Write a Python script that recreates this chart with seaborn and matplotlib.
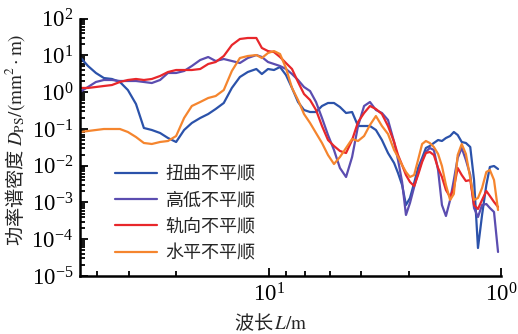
import numpy as np
import pandas as pd
import matplotlib
matplotlib.use("Agg")
import matplotlib.pyplot as plt
import seaborn as sns
from matplotlib.ticker import FixedLocator, LogLocator, LogFormatterMathtext, NullFormatter

# Wavelength grid (m) shared by all four irregularity spectra
wavelength = [64.8, 59.8, 55.3, 51.1, 47.2, 43.6, 40.3, 37.2, 34.4, 31.8, 29.3, 27.1,
              25.0, 23.1, 21.4, 19.7, 18.2, 16.9, 15.6, 14.4, 13.3, 12.3, 11.3,
              10.7, 10.07, 9.49, 8.94, 8.43, 7.94, 7.48, 7.05, 6.64, 6.26, 5.90, 5.56,
              5.24, 4.94, 4.65, 4.38, 4.13, 3.89, 3.67, 3.46, 3.26, 3.07, 2.89,
              2.78, 2.67, 2.57, 2.47, 2.37, 2.28, 2.19, 2.11, 2.03, 1.95, 1.87, 1.80,
              1.73, 1.66, 1.60, 1.54, 1.48, 1.42, 1.36, 1.31, 1.26, 1.21, 1.16, 1.12,
              1.075, 1.033]

# Power spectral density (mm^2·m)
psd_twist = [9.03, 5.14, 3.32, 2.42, 2.28, 1.89, 1.14, 0.476, 0.106, 0.0934, 0.0774, 0.0566,
             0.0441, 0.0934, 0.145, 0.198, 0.254, 0.348, 0.507, 1.30, 2.58, 3.53, 4.26,
             3.11, 4.26, 4.00, 4.83, 2.93, 1.30, 0.539, 0.327, 0.288, 0.288, 0.420, 0.507,
             0.507, 0.394, 0.271, 0.288, 0.120, 0.120, 0.120, 0.0934, 0.0499, 0.0221, 0.0118,
             0.00632, 0.00298, 0.000852, 0.00132, 0.00338, 0.00865, 0.0162, 0.0303, 0.0343,
             0.0414, 0.0499, 0.0469, 0.0566, 0.0641, 0.0824, 0.0683, 0.0441, 0.0414, 0.0322,
             0.00408, 5.77e-5, 0.000456, 0.00298, 0.00921, 0.00980, 0.00812]

psd_vertical = [1.01, 1.38, 1.89, 2.14, 2.14, 2.01, 2.01, 2.01, 1.89, 1.77, 2.14, 3.32,
                3.32, 3.76, 5.14, 7.48, 9.03, 7.03, 7.96, 7.03, 6.20, 8.48, 10.2,
                9.03, 6.60, 5.83, 5.14, 4.26, 3.11, 2.14, 1.38, 1.07, 0.539, 0.198, 0.0683,
                0.0267, 0.00865, 0.00492, 0.0172, 0.120, 0.420, 0.539, 0.327, 0.271, 0.175, 0.0441,
                0.0143, 0.00360, 0.000456, 0.000966, 0.00263, 0.00632, 0.0143, 0.0236, 0.0303,
                0.0267, 0.00763, 0.000852, 0.000428, 0.00117, 0.00408, 0.0162, 0.0303, 0.0143,
                0.00558, 0.000706, 0.000402, 0.000852, 0.000908, 0.000706, 0.000550, 4.5e-5]

psd_alignment = [1.30, 1.30, 1.38, 1.47, 1.56, 1.89, 2.14, 2.28, 2.14, 2.28, 2.75, 3.53,
                 4.00, 4.00, 4.00, 4.26, 5.83, 6.60, 9.61, 19.1, 27.9, 29.7, 29.7,
                 15.9, 13.1, 12.3, 9.03, 6.20, 4.26, 1.89, 0.890, 0.611, 0.327, 0.120, 0.0499,
                 0.0343, 0.0251, 0.0221, 0.0499, 0.154, 0.271, 0.420, 0.348, 0.254, 0.120, 0.0441,
                 0.0195, 0.0104, 0.00558, 0.00360, 0.00280, 0.00558, 0.0126, 0.0221, 0.0236,
                 0.0195, 0.00865, 0.00492, 0.00218, 0.00141, 0.00247, 0.00865, 0.00558, 0.00383,
                 0.00408, 0.000852, 0.000664, 0.00117, 0.00205, 0.00150, 0.00103, 0.000752]

psd_crosslevel = [0.0824, 0.0877, 0.0934, 0.0994, 0.0994, 0.0994, 0.0824, 0.0602, 0.0414, 0.0389,
                  0.0441, 0.0469, 0.0641, 0.198, 0.420, 0.539, 0.693, 0.785, 1.14, 3.76, 8.48,
                  9.61, 10.2,
                  8.48, 11.6, 13.1, 10.9, 4.53, 1.30, 0.611, 0.254, 0.145, 0.0774, 0.0414, 0.0195,
                  0.0111, 0.0172, 0.0303, 0.0532, 0.0469, 0.0641, 0.128, 0.224, 0.120, 0.0727, 0.0267,
                  0.0172, 0.0104, 0.00673, 0.00492, 0.00558, 0.0143, 0.0389, 0.0469, 0.0414,
                  0.0322, 0.0208, 0.00980, 0.00298, 0.00117, 0.00170, 0.0195, 0.0389, 0.0208,
                  0.00462, 0.00117, 0.00132, 0.00247, 0.00673, 0.00763, 0.00408, 0.000623]

series_names = ["扭曲不平顺", "高低不平顺", "轨向不平顺", "水平不平顺"]
series_values = [psd_twist, psd_vertical, psd_alignment, psd_crosslevel]
series_colors = ["#2b52aa", "#5b4db0", "#e8272b", "#f5852e"]

x_minor_ticks = [54.6, 39.8, 25.0, 8.4, 7.0, 5.47, 4.0, 2.5]

sns.set_style("ticks")
plt.rcParams["font.family"] = ["Liberation Serif", "Noto Sans CJK SC"]
plt.rcParams["mathtext.fontset"] = "stix"

df = pd.concat(
    [pd.DataFrame({"wavelength": wavelength, "psd": vals, "type": name})
     for name, vals in zip(series_names, series_values)],
    ignore_index=True,
)

fig = plt.figure(figsize=(5.18, 3.34), dpi=100)
ax = fig.add_axes([0.1544, 0.1737, 0.8134, 0.7706])

sns.lineplot(data=df, x="wavelength", y="psd", hue="type", hue_order=series_names,
             palette=dict(zip(series_names, series_colors)), linewidth=1.6,
             estimator=None, sort=False, ax=ax)

ax.set_xscale("log")
ax.set_yscale("log")
ax.set_xlim(64.75, 1.0)
ax.set_ylim(1e-5, 1e2)

ax.xaxis.set_major_locator(FixedLocator([10, 1]))
ax.xaxis.set_major_formatter(LogFormatterMathtext())
ax.xaxis.set_minor_locator(FixedLocator(x_minor_ticks))
ax.xaxis.set_minor_formatter(NullFormatter())
ax.yaxis.set_major_locator(LogLocator(base=10, numticks=10))
ax.yaxis.set_major_formatter(LogFormatterMathtext())
ax.yaxis.set_minor_locator(LogLocator(base=10, subs=np.arange(2, 10), numticks=10))
ax.yaxis.set_minor_formatter(NullFormatter())

ax.tick_params(which="both", direction="in", width=1.3, colors="black", labelsize=16.5)
ax.tick_params(which="major", length=6, pad=5)
ax.tick_params(which="minor", length=3.5)

sns.despine(ax=ax)
for side in ("left", "bottom"):
    ax.spines[side].set_linewidth(1.8)
    ax.spines[side].set_color("black")

# CJK words in the regular font, symbols and units typeset as math (STIX)
ax.set_ylabel("功率谱密度 $D_{\\mathrm{PS}}/(\\mathrm{mm}^{2}\\cdot\\mathrm{m})$",
              fontsize=13.8, fontfamily="Noto Sans CJK SC")
ax.set_xlabel("波长$\\,L/\\mathrm{m}$", fontsize=13.8, fontfamily="Noto Sans CJK SC")
ax.yaxis.set_label_coords(-0.125, 0.53)
ax.xaxis.set_label_coords(0.453, -0.14)

handles, labels = ax.get_legend_handles_labels()
ax.legend(handles, labels, loc="upper left", bbox_to_anchor=(115 / 518, 1 - 166 / 334),
          bbox_transform=fig.transFigure, frameon=False, fontsize=13,
          handlelength=2.3, handletextpad=0.5, labelspacing=0.52,
          borderpad=0, borderaxespad=0)

fig.savefig("out.png", dpi=100)
